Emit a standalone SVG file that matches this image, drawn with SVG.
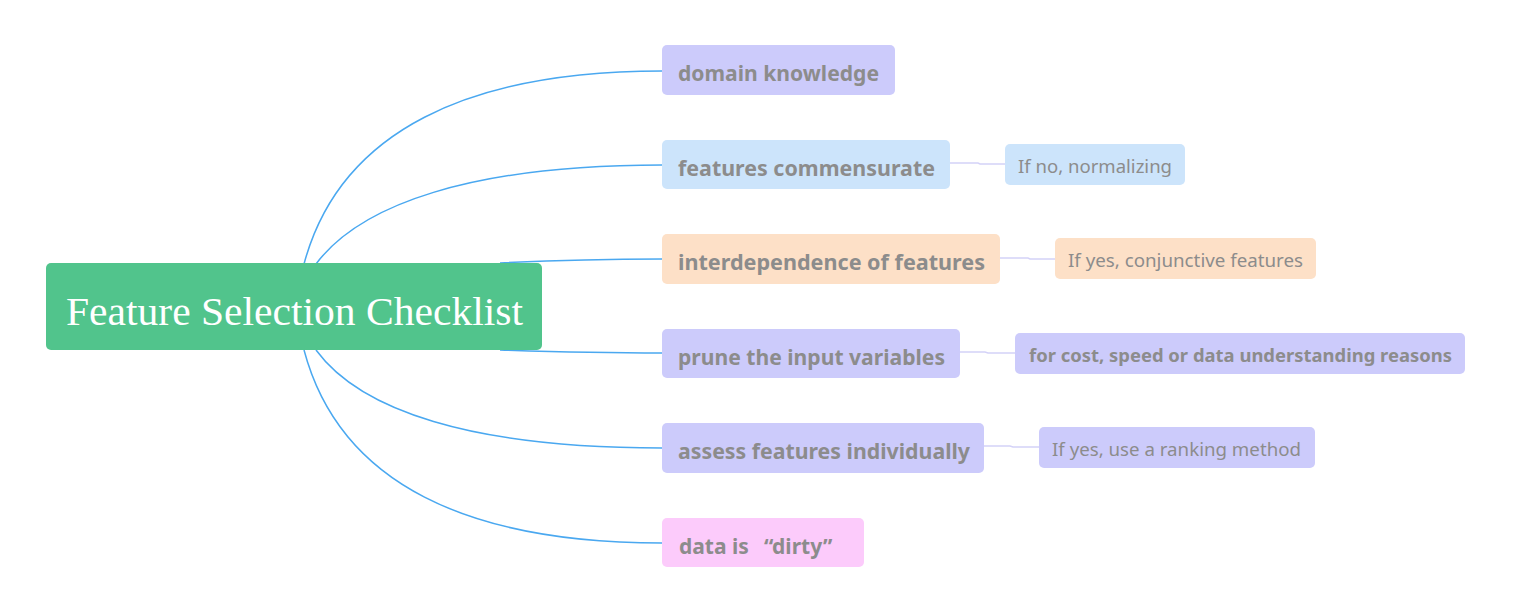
<svg xmlns="http://www.w3.org/2000/svg" width="1520" height="616" viewBox="0 0 1520 616">
<style>
.main{font-family:"Noto Sans","Open Sans",sans-serif;font-weight:bold;font-size:21px;fill:#8c8c8c}
.sub{font-family:"Noto Sans","Open Sans",sans-serif;font-size:18.5px;fill:#8c8c8c}
.subb{font-family:"Noto Sans","Open Sans",sans-serif;font-weight:bold;font-size:17px;fill:#8c8c8c}
.c{fill:none;stroke:#4aa8f0;stroke-width:1.5}
.s{fill:none;stroke:#d4d2f8;stroke-width:1.5}
.p{fill:#cccbfb}.b{fill:#cce4fb}.o{fill:#fde0c7}.k{fill:#fccbfb}
</style>
<rect width="1520" height="616" fill="#ffffff"/>
<g id="connectors">
<path class="c" d="M304,264 C340,130 470,71 662,71"/>
<path class="c" d="M316,264 C360,205 470,165 662,165"/>
<path class="c" d="M500,263 C560,260 600,259 662,259"/>
<path class="c" d="M500,350 C560,352 600,353 662,353"/>
<path class="c" d="M316,350 C360,410 470,448 662,448"/>
<path class="c" d="M304,350 C340,485 470,543 662,543"/>
<path class="s" d="M950,163 L978,163 L980,164 L1005,164"/>
<path class="s" d="M1000,258 L1028,258 L1030,259 L1055,259"/>
<path class="s" d="M960,352 L985,352 L988,353 L1015,353"/>
<path class="s" d="M984,446 L1010,446 L1013,447 L1039,447"/>
</g>
<g id="root">
<rect x="46" y="263" width="496" height="87" rx="5" fill="#51c48c"/>
<text x="66" y="325" textLength="457" lengthAdjust="spacingAndGlyphs" font-family="Georgia,'Liberation Serif',serif" font-size="40" fill="#ffffff">Feature Selection Checklist</text>
</g>
<g id="n1"><rect class="p" x="662" y="45" width="233" height="50" rx="5"/><text class="main" x="678" y="81" textLength="201" lengthAdjust="spacingAndGlyphs">domain knowledge</text></g>
<g id="n2"><rect class="b" x="662" y="140" width="288" height="49" rx="5"/><text class="main" x="678" y="176" textLength="257" lengthAdjust="spacingAndGlyphs">features commensurate</text></g>
<g id="n2a"><rect class="b" x="1005" y="144" width="180" height="41" rx="5"/><text class="sub" x="1018" y="173" textLength="154" lengthAdjust="spacingAndGlyphs">If no, normalizing</text></g>
<g id="n3"><rect class="o" x="662" y="234" width="338" height="50" rx="5"/><text class="main" x="678" y="270" textLength="307" lengthAdjust="spacingAndGlyphs">interdependence of features</text></g>
<g id="n3a"><rect class="o" x="1055" y="238" width="261" height="41" rx="5"/><text class="sub" x="1068" y="267" textLength="235" lengthAdjust="spacingAndGlyphs">If yes, conjunctive features</text></g>
<g id="n4"><rect class="p" x="662" y="329" width="298" height="49" rx="5"/><text class="main" x="678" y="365" textLength="267" lengthAdjust="spacingAndGlyphs">prune the input variables</text></g>
<g id="n4a"><rect class="p" x="1015" y="333" width="450" height="41" rx="5"/><text class="subb" x="1029" y="362" textLength="423" lengthAdjust="spacingAndGlyphs">for cost, speed or data understanding reasons</text></g>
<g id="n5"><rect class="p" x="662" y="423" width="322" height="50" rx="5"/><text class="main" x="678" y="459" textLength="292" lengthAdjust="spacingAndGlyphs">assess features individually</text></g>
<g id="n5a"><rect class="p" x="1039" y="427" width="276" height="41" rx="5"/><text class="sub" x="1052" y="456" textLength="249" lengthAdjust="spacingAndGlyphs">If yes, use a ranking method</text></g>
<g id="n6"><rect class="k" x="662" y="518" width="202" height="49" rx="5"/><text class="main" x="679" y="554">data is<tspan x="764">“dirty”</tspan></text></g>
</svg>
